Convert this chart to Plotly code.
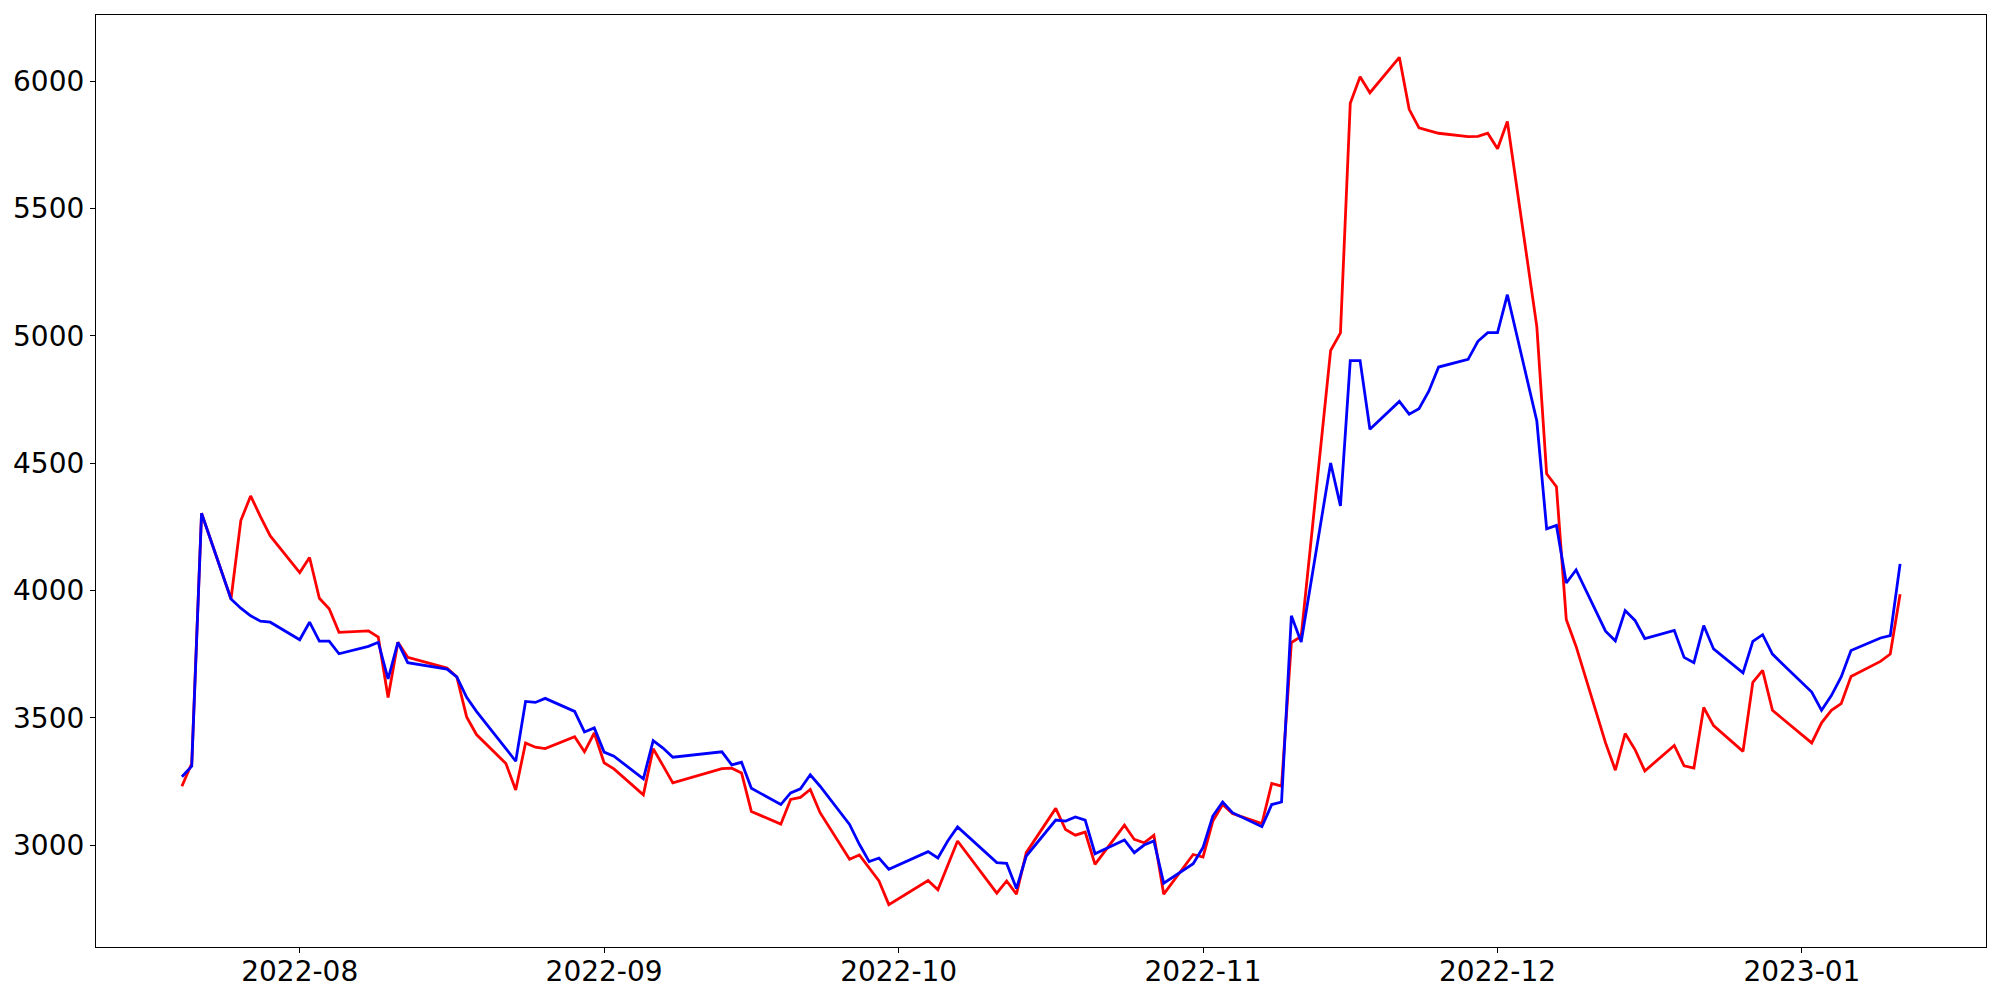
import plotly.graph_objects as go
import pandas as pd

dates = [
    "2022-07-20", "2022-07-21", "2022-07-22", "2022-07-25", "2022-07-26", "2022-07-27", "2022-07-28", "2022-07-29",
    "2022-08-01", "2022-08-02", "2022-08-03", "2022-08-04", "2022-08-05", "2022-08-08", "2022-08-09", "2022-08-10",
    "2022-08-11", "2022-08-12", "2022-08-16", "2022-08-17", "2022-08-18", "2022-08-19", "2022-08-22", "2022-08-23",
    "2022-08-24", "2022-08-25", "2022-08-26", "2022-08-29", "2022-08-30", "2022-08-31",
    "2022-09-01", "2022-09-02", "2022-09-05", "2022-09-06", "2022-09-07", "2022-09-08", "2022-09-13", "2022-09-14",
    "2022-09-15", "2022-09-16", "2022-09-19", "2022-09-20", "2022-09-21", "2022-09-22", "2022-09-23", "2022-09-26",
    "2022-09-27", "2022-09-28", "2022-09-29", "2022-09-30",
    "2022-10-04", "2022-10-05", "2022-10-06", "2022-10-07", "2022-10-11", "2022-10-12", "2022-10-13", "2022-10-14",
    "2022-10-17", "2022-10-18", "2022-10-19", "2022-10-20", "2022-10-21", "2022-10-24", "2022-10-25", "2022-10-26",
    "2022-10-27", "2022-10-28", "2022-10-31",
    "2022-11-01", "2022-11-02", "2022-11-03", "2022-11-04", "2022-11-07", "2022-11-08", "2022-11-09", "2022-11-10",
    "2022-11-11", "2022-11-14", "2022-11-15", "2022-11-16", "2022-11-17", "2022-11-18", "2022-11-21", "2022-11-22",
    "2022-11-23", "2022-11-24", "2022-11-25", "2022-11-28", "2022-11-29", "2022-11-30",
    "2022-12-01", "2022-12-02", "2022-12-05", "2022-12-06", "2022-12-07", "2022-12-08", "2022-12-09", "2022-12-12",
    "2022-12-13", "2022-12-14", "2022-12-15", "2022-12-16", "2022-12-19", "2022-12-20", "2022-12-21", "2022-12-22",
    "2022-12-23", "2022-12-26", "2022-12-27", "2022-12-28", "2022-12-29", "2022-12-30",
    "2023-01-02", "2023-01-03", "2023-01-04", "2023-01-05", "2023-01-06", "2023-01-09", "2023-01-10", "2023-01-11",
]

blue_values = [
    3268, 3310, 4303, 3966, 3930, 3900, 3879, 3875,
    3806, 3875, 3801, 3801, 3751, 3780, 3796, 3652,
    3796, 3716, 3691, 3660, 3580, 3525, 3379, 3329,
    3564, 3560, 3576, 3525, 3444, 3460,
    3365, 3349, 3260, 3410, 3381, 3345, 3366, 3315,
    3325, 3223, 3159, 3205, 3221, 3276, 3231, 3081,
    3003, 2935, 2949, 2905,
    2974, 2949, 3016, 3071, 2931, 2928, 2829, 2957,
    3098, 3094, 3110, 3098, 2966, 3020, 2970, 3000,
    3016, 2850, 2927,
    2990, 3114, 3169, 3127, 3072, 3159, 3169, 3900,
    3797, 4500, 4332, 4902, 4902, 4633, 4742, 4692,
    4713, 4782, 4877, 4907, 4978, 5012,
    5012, 5161, 4665, 4242, 4255, 4029, 4080, 3840,
    3802, 3921, 3882, 3811, 3843, 3737, 3716, 3862,
    3770, 3676, 3800, 3826, 3750, 3712,
    3601, 3529, 3587, 3660, 3764, 3813, 3822, 4104,
]

red_values = [
    3231, 3320, 4303, 3966, 4274, 4371, 4290, 4214,
    4070, 4129, 3969, 3928, 3835, 3841, 3817, 3579,
    3796, 3737, 3695, 3660, 3503, 3434, 3320, 3216,
    3401, 3384, 3379, 3425, 3366, 3440,
    3323, 3299, 3197, 3378, 3312, 3244, 3300, 3302,
    3283, 3132, 3082, 3179, 3187, 3218, 3127, 2944,
    2961, 2910, 2859, 2766,
    2861, 2824, 2918, 3016, 2811, 2859, 2807, 2970,
    3144, 3061, 3039, 3051, 2924, 3078, 3022, 3009,
    3038, 2807, 2963,
    2953, 3094, 3159, 3124, 3084, 3242, 3231, 3795,
    3819, 4942, 5011, 5913, 6017, 5954, 6093, 5889,
    5816, 5805, 5795, 5782, 5783, 5795,
    5734, 5841, 5036, 4458, 4407, 3886, 3780, 3401,
    3294, 3438, 3375, 3291, 3391, 3311, 3302, 3540,
    3469, 3368, 3639, 3686, 3529, 3497,
    3401, 3480, 3529, 3555, 3662, 3721, 3750, 3985,
]

x = pd.to_datetime(dates)

fig = go.Figure()
fig.add_trace(go.Scatter(x=x, y=red_values, mode="lines",
                         line=dict(color="#ff0000", width=2.8), showlegend=False))
fig.add_trace(go.Scatter(x=x, y=blue_values, mode="lines",
                         line=dict(color="#0000ff", width=2.8), showlegend=False))

# matplotlib-like 5% auto margins
span = x.max() - x.min()
xr = [x.min() - 0.05 * span, x.max() + 0.05 * span]
allv = red_values + blue_values
vspan = max(allv) - min(allv)
yr = [min(allv) - 0.05 * vspan, max(allv) + 0.05 * vspan]

font = dict(family="DejaVu Sans", size=28, color="black")

# the page body has an 8px default margin, so margins are offset by 8px
fig.update_layout(
    width=2000, height=1000,
    margin=dict(l=88, r=22, t=7, b=61, autoexpand=False),
    paper_bgcolor="white", plot_bgcolor="white",
    font=font,
    xaxis=dict(
        range=xr, showgrid=False, zeroline=False, automargin=False,
        showline=True, linecolor="black", linewidth=1.2, mirror=True,
        ticks="outside", ticklen=5, tickwidth=1.2, tickcolor="black",
        tickformat="%Y-%m", dtick="M1", tick0="2022-08-01",
        tickfont=font, ticklabelstandoff=-6,
    ),
    yaxis=dict(
        range=yr, showgrid=False, zeroline=False, automargin=False,
        showline=True, linecolor="black", linewidth=1.2, mirror=True,
        ticks="outside", ticklen=5, tickwidth=1.2, tickcolor="black",
        tickmode="linear", tick0=3000, dtick=500,
        tickfont=font, ticklabelstandoff=0,
    ),
)

fig.write_html("out.html")
